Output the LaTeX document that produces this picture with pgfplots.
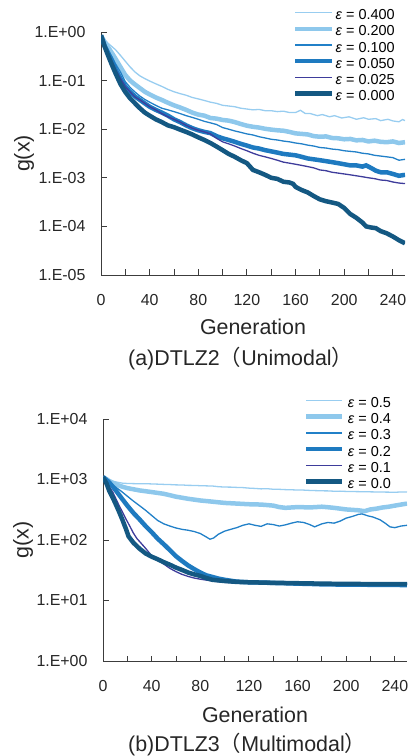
\documentclass[border=0pt]{standalone}
\usepackage{fontspec}
\setmainfont{Liberation Sans}
\newfontfamily\cjk{Noto Sans CJK JP}
\usepackage{pgfplots}
\pgfplotsset{compat=1.18}
\definecolor{cA}{RGB}{152,205,240}
\definecolor{cB}{RGB}{142,200,236}
\definecolor{cC}{RGB}{33,128,200}
\definecolor{cD}{RGB}{30,122,192}
\definecolor{cE}{RGB}{62,60,155}
\definecolor{cF}{RGB}{20,88,130}
\definecolor{axc}{RGB}{60,60,60}
\tikzset{thinl/.style={line width=1.3bp}, thickl/.style={line width=4.5bp}}
\pgfplotsset{
  myaxis/.style={
    anchor=south west, scale only axis,
    width=304bp,
    xmin=0, xmax=250,
    axis x line=bottom, axis y line=left,
    axis line style={-, draw=axc, line width=0.9bp},
    tick style={draw=axc, line width=0.9bp},
    major tick length=5.5bp, tick align=inside,
    yminorticks=false,
    xtick={0,20,...,240},
    xticklabels={0,,40,,80,,120,,160,,200,,240},
    every tick label/.append style={font=\fontsize{16}{18}\selectfont, text=black!85},
    xticklabel shift=16bp, yticklabel shift=12bp,
    label style={font=\fontsize{21.5}{24}\selectfont, text=black!85},
    xlabel={Generation}, ylabel={g(x)},
    xlabel style={at={(axis description cs:0.5,0)}, anchor=base},
    ylabel style={at={(axis description cs:0,0.5)}, anchor=center},
    legend cell align=left,
    legend style={draw=none, fill=none, inner sep=0pt, outer sep=0pt,
      font=\fontsize{14.5}{16}\selectfont, row sep=3.2bp,
      nodes={inner ysep=0pt, inner xsep=1bp, text height=10bp, text depth=3bp}},
  }
}
\begin{document}
\begin{tikzpicture}
\path[use as bounding box] (0bp,0bp) rectangle (409bp,756bp);
% ---------------- (a) DTLZ2
\begin{axis}[ymode=log, myaxis, at={(101bp,481bp)}, height=243bp,
  ymin=1e-5, ymax=1,
  ytick={1e-5,1e-4,1e-3,1e-2,1e-1,1},
  yticklabels={1.E-05,1.E-04,1.E-03,1.E-02,1.E-01,1.E+00},
  xlabel style={yshift=-60bp}, ylabel style={yshift=77bp},
  legend style={at={(axis description cs:0.632,1.092)}, anchor=north west},
  legend image code/.code={\draw[#1] (0bp,3.5bp) -- (37bp,3.5bp);},
]
\addplot[cA, thinl] coordinates {
(0,0.85)(3,0.70)(6,0.58)(9,0.50)(12,0.43)(16,0.33)(20,0.25)(24,0.19)(28,0.15)(32,0.125)
(36,0.11)(40,0.098)(45,0.086)(50,0.076)(55,0.066)(60,0.059)(65,0.054)(70,0.050)(75,0.045)
(80,0.042)(85,0.039)(90,0.036)(95,0.034)(100,0.031)(105,0.030)(110,0.029)(115,0.027)
(120,0.026)(125,0.025)(130,0.0255)(135,0.024)(140,0.024)(145,0.023)(150,0.0235)(155,0.022)
(160,0.022)(164,0.0245)(168,0.021)(172,0.021)(178,0.019)(182,0.020)(188,0.018)(192,0.019)
(198,0.017)(204,0.018)(210,0.016)(216,0.0172)(220,0.016)(226,0.0165)(230,0.015)(236,0.016)
(240,0.0148)(245,0.0142)(248,0.0158)(250,0.015)};
\addlegendentry{\textit{ε} = 0.400}
\addplot[cB, thickl] coordinates {
(0,0.85)(3,0.62)(6,0.48)(9,0.37)(12,0.28)(16,0.19)(20,0.13)(24,0.10)(28,0.083)(32,0.070)
(36,0.059)(40,0.052)(45,0.045)(50,0.040)(55,0.035)(60,0.031)(65,0.028)(70,0.025)(75,0.022)
(80,0.020)(85,0.019)(90,0.017)(95,0.0165)(100,0.0155)(105,0.015)(110,0.014)(115,0.0128)
(120,0.0118)(125,0.0112)(130,0.0108)(135,0.0102)(140,0.0098)(145,0.0095)(150,0.0093)
(155,0.0088)(160,0.0082)(165,0.0080)(170,0.0078)(175,0.0072)(180,0.0070)(185,0.0071)
(190,0.0066)(195,0.0065)(200,0.0062)(205,0.0063)(210,0.0059)(215,0.0060)(220,0.0056)
(225,0.0058)(230,0.0055)(235,0.0054)(240,0.0056)(245,0.0052)(250,0.0054)};
\addlegendentry{\textit{ε} = 0.200}
\addplot[cC, thinl] coordinates {
(0,0.85)(3,0.58)(6,0.42)(9,0.31)(12,0.22)(16,0.15)(20,0.095)(24,0.072)(28,0.058)(32,0.048)
(36,0.041)(40,0.036)(45,0.031)(50,0.027)(55,0.025)(60,0.023)(65,0.021)(70,0.019)(75,0.0175)
(80,0.016)(85,0.0145)(90,0.0135)(95,0.0125)(100,0.0108)(105,0.0100)(110,0.0092)(115,0.0086)
(120,0.0080)(125,0.0076)(130,0.0070)(135,0.0066)(140,0.0062)(145,0.0060)(150,0.0057)
(155,0.0055)(160,0.0052)(165,0.0050)(170,0.0047)(175,0.0045)(180,0.0042)(185,0.0041)
(190,0.0039)(195,0.0038)(200,0.0036)(205,0.0035)(210,0.0034)(215,0.0032)(220,0.0031)
(225,0.0029)(230,0.0028)(235,0.0027)(240,0.0026)(245,0.0023)(250,0.0024)};
\addlegendentry{\textit{ε} = 0.100}
\addplot[cD, thickl] coordinates {
(0,0.85)(3,0.52)(6,0.36)(9,0.25)(12,0.17)(16,0.11)(20,0.075)(24,0.058)(28,0.047)(32,0.040)
(36,0.034)(40,0.029)(45,0.025)(50,0.022)(55,0.019)(60,0.016)(65,0.014)(70,0.012)(75,0.0105)
(80,0.0095)(85,0.0088)(90,0.0083)(95,0.0072)(100,0.0065)(105,0.0060)(110,0.0055)(115,0.0050)
(120,0.0046)(125,0.0042)(130,0.0040)(135,0.0037)(140,0.0035)(145,0.0033)(150,0.0031)
(155,0.0030)(160,0.0029)(165,0.0027)(170,0.0025)(175,0.0024)(180,0.0023)(185,0.0022)
(190,0.0021)(195,0.0020)(200,0.0019)(205,0.0018)(210,0.0018)(215,0.0017)(218,0.0018)
(222,0.0016)(226,0.0014)(230,0.0013)(235,0.0013)(240,0.0012)(245,0.0011)(250,0.00115)};
\addlegendentry{\textit{ε} = 0.050}
\addplot[cE, thinl] coordinates {
(0,0.85)(3,0.52)(6,0.36)(9,0.25)(12,0.17)(16,0.11)(20,0.075)(24,0.058)(28,0.046)(32,0.040)
(36,0.034)(40,0.029)(45,0.025)(50,0.021)(55,0.018)(60,0.016)(65,0.014)(70,0.012)(75,0.0105)
(80,0.0095)(85,0.0088)(90,0.0080)(95,0.0065)(100,0.0055)(105,0.0050)(110,0.0045)(115,0.0040)
(120,0.0036)(125,0.0032)(130,0.0029)(135,0.0027)(140,0.0025)(145,0.0023)(150,0.0021)
(155,0.0020)(160,0.0019)(165,0.0018)(170,0.0017)(175,0.0016)(180,0.00145)(185,0.0014)
(190,0.0013)(195,0.00125)(200,0.0012)(205,0.00115)(210,0.0011)(215,0.00105)(220,0.0010)
(225,0.00096)(230,0.00090)(235,0.00088)(240,0.00082)(245,0.00078)(250,0.00076)};
\addlegendentry{\textit{ε} = 0.025}
\addplot[cF, thickl] coordinates {
(0,0.85)(3,0.50)(6,0.32)(9,0.21)(12,0.14)(16,0.085)(20,0.058)(24,0.043)(28,0.034)(32,0.027)
(36,0.022)(40,0.019)(45,0.016)(50,0.014)(55,0.012)(60,0.011)(65,0.0098)(70,0.0088)(75,0.0078)
(80,0.0068)(85,0.0060)(90,0.0052)(95,0.0044)(100,0.0037)(105,0.0031)(110,0.0027)(115,0.0023)
(120,0.0020)(125,0.00145)(130,0.0013)(135,0.00115)(140,0.0010)(145,0.00095)(150,0.00083)
(155,0.00080)(158,0.00075)(160,0.00065)(165,0.00056)(170,0.00050)(175,0.00042)(180,0.00036)
(185,0.00033)(190,0.00031)(195,0.00029)(200,0.00024)(205,0.00018)(210,0.00015)(215,0.00012)
(218,0.00010)(222,0.000095)(226,0.000092)(230,0.000080)(235,0.000072)(240,0.000062)
(245,0.000052)(250,0.000045)};
\addlegendentry{\textit{ε} = 0.000}
\end{axis}
\node[anchor=base west, font=\fontsize{21.5}{24}\selectfont, text=black!85, inner sep=0pt]
  at (128bp,390bp) {(a)DTLZ2{\cjk （}Unimodal{\cjk ）}};
% ---------------- (b) DTLZ3
\begin{axis}[ymode=log, myaxis, at={(103bp,95bp)}, height=242bp,
  ymin=1, ymax=1e4,
  ytick={1,10,100,1000,10000},
  yticklabels={1.E+00,1.E+01,1.E+02,1.E+03,1.E+04},
  xlabel style={yshift=-61bp}, ylabel style={yshift=80bp},
  legend style={at={(axis description cs:0.661,1.089)}, anchor=north west,
    nodes={inner xsep=3.5bp}},
  legend image code/.code={\draw[#1] (0bp,3.5bp) -- (36bp,3.5bp);},
]
\addplot[cA, thinl] coordinates {
(0,1100)(3,1020)(5,980)(8,940)(12,900)(16,870)(20,860)(25,855)(30,850)(35,852)(40,845)
(45,838)(50,830)(55,825)(60,815)(65,812)(70,800)(75,798)(80,790)(85,785)(90,780)(95,760)
(100,750)(105,748)(110,740)(115,735)(120,720)(125,712)(130,700)(135,705)(140,690)(145,688)
(150,680)(155,676)(160,670)(165,668)(170,660)(175,655)(180,650)(185,648)(190,640)(195,642)
(200,635)(210,630)(220,625)(230,620)(235,618)(240,615)(245,622)(250,620)};
\addlegendentry{\textit{ε} = 0.5}
\addplot[cB, thickl] coordinates {
(0,1100)(5,950)(10,840)(15,770)(20,720)(25,690)(30,660)(35,640)(40,620)(45,600)(50,580)
(55,550)(60,520)(65,500)(70,480)(75,465)(80,450)(85,440)(90,430)(95,420)(100,410)(105,405)
(110,400)(115,395)(120,390)(125,388)(130,385)(135,378)(140,370)(145,350)(150,340)(155,345)
(160,350)(165,348)(170,345)(175,350)(180,355)(185,348)(190,340)(195,330)(200,320)(205,315)
(210,310)(215,300)(220,320)(225,330)(230,345)(235,355)(240,370)(245,385)(250,400)};
\addlegendentry{\textit{ε} = 0.4}
\addplot[cC, thinl] coordinates {
(0,1100)(5,900)(10,760)(15,640)(20,530)(25,440)(30,370)(35,310)(40,255)(45,210)(50,185)
(55,170)(60,158)(65,150)(70,145)(75,138)(80,128)(85,112)(88,103)(91,108)(95,125)(100,140)
(105,150)(110,160)(115,175)(120,185)(125,175)(130,168)(135,185)(140,180)(145,170)(150,178)
(155,190)(160,200)(165,195)(170,180)(174,165)(180,185)(185,195)(190,190)(195,205)(200,230)
(205,245)(210,265)(213,270)(218,250)(222,240)(228,215)(232,190)(236,165)(240,160)(245,170)
(250,175)};
\addlegendentry{\textit{ε} = 0.3}
\addplot[cD, thickl] coordinates {
(0,1100)(5,900)(10,680)(15,500)(20,370)(25,280)(30,220)(35,170)(40,135)(45,105)(50,85)
(55,68)(60,54)(65,45)(70,38)(75,33)(80,29)(85,26)(90,24.5)(95,23)(100,22)(110,20.5)
(120,20)(130,19.8)(140,19.5)(150,19.3)(160,19)(170,18.8)(180,18.5)(200,18.3)(220,18.2)
(250,18)};
\addlegendentry{\textit{ε} = 0.2}
\addplot[cE, thinl] coordinates {
(0,1100)(3,900)(5,760)(8,620)(10,510)(13,380)(16,290)(19,220)(22,170)(25,130)(28,105)
(31,90)(35,73)(40,55)(45,46)(50,40)(55,34)(60,30)(65,27)(70,25)(75,23.5)(80,22.5)(90,21)
(100,20)(110,19.5)(130,19.2)(160,19)(200,18.8)(250,18.6)};
\addlegendentry{\textit{ε} = 0.1}
\addplot[cF, thickl] coordinates {
(0,1100)(3,850)(5,660)(8,500)(10,410)(13,300)(16,215)(19,150)(21,115)(25,90)(30,72)
(35,60)(40,53)(45,48)(50,43)(55,39)(60,35)(65,32)(70,29)(75,27)(80,25.5)(85,23.5)(90,22)
(100,21)(110,20.3)(120,20)(140,19.6)(160,19.3)(180,19)(200,18.8)(220,18.7)(250,18.6)};
\addlegendentry{\textit{ε} = 0.0}
\end{axis}
\node[anchor=base west, font=\fontsize{21.5}{24}\selectfont, text=black!85, inner sep=0pt]
  at (128bp,4.5bp) {(b)DTLZ3{\cjk （}Multimodal{\cjk ）}};
\end{tikzpicture}
\end{document}
